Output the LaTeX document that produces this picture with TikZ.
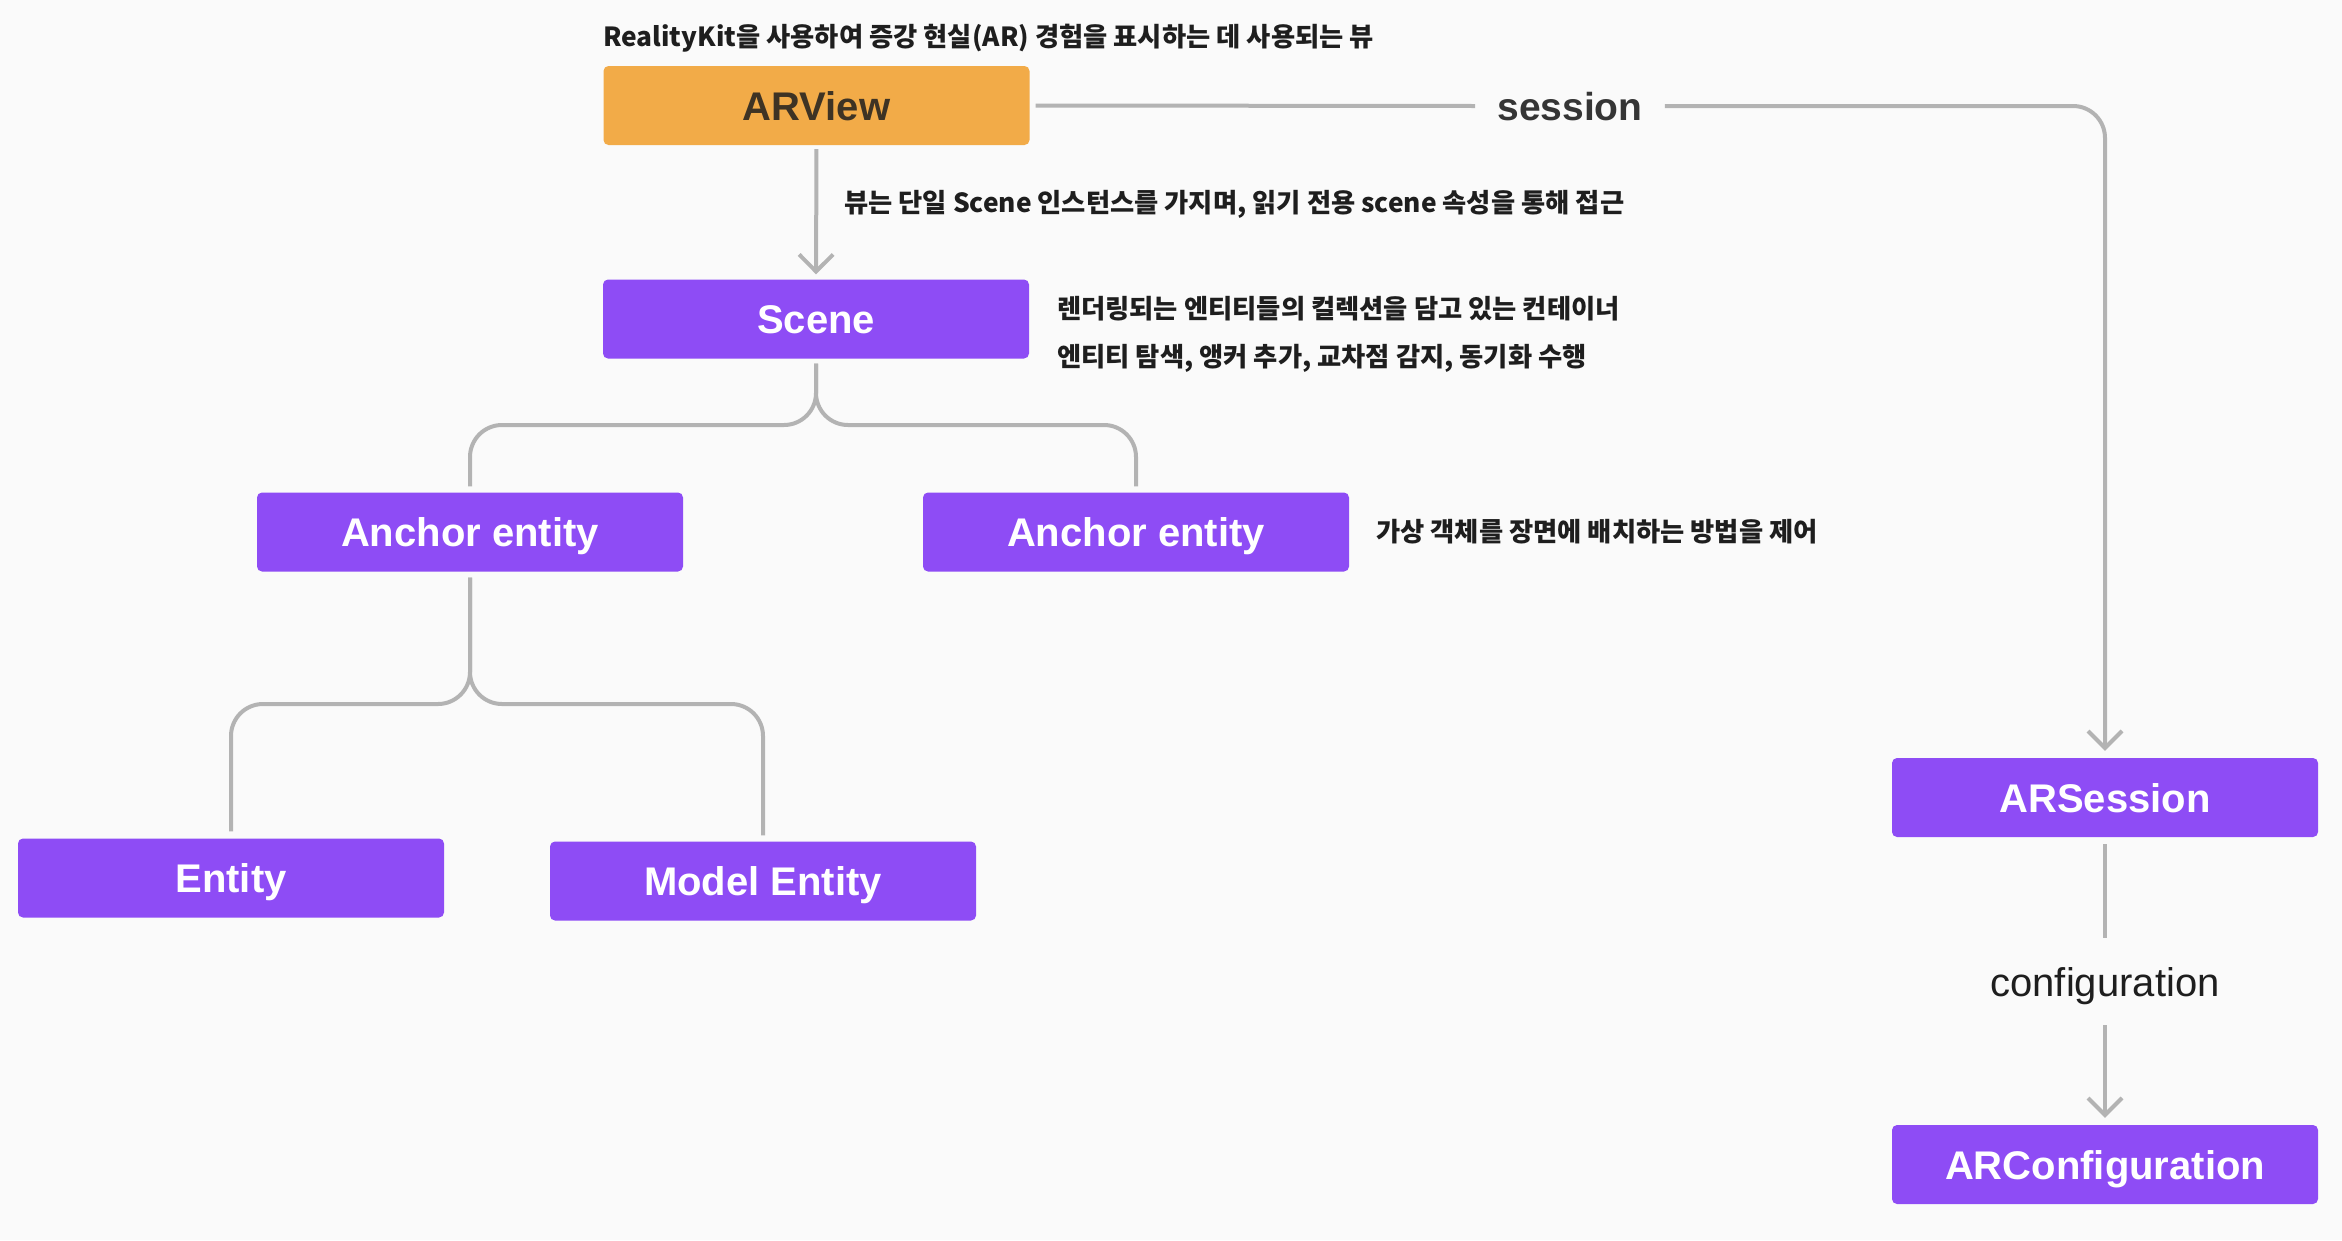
\documentclass[tikz,border=0pt]{standalone}
\usepackage{fontspec}
\setmainfont{Liberation Sans}
\newfontfamily\kr{Noto Sans CJK KR}
\usetikzlibrary{arrows.meta}
\definecolor{bg}{HTML}{FAFAFA}
\definecolor{purp}{HTML}{8E4CF5}
\definecolor{orng}{HTML}{F2AB48}
\definecolor{lgray}{HTML}{B3B3B3}
\definecolor{ink}{HTML}{1E1E1E}
\tikzset{
  box/.style={rectangle, rounded corners=5pt, fill=purp, text=white,
    minimum width=426pt, minimum height=79pt, inner sep=0pt,
    text height=29pt, text depth=0pt,
    font=\fontsize{40}{48}\selectfont\bfseries},
  orangebox/.style={box, fill=orng, text=ink!85!orng},
  note/.style={anchor=west, inner sep=0pt, text=ink,
    font=\kr\bfseries\fontsize{26.3}{30}\selectfont},
  conn/.style={draw=lgray, line width=4pt},
  arr/.style={conn, -{Straight Barb[length=17pt,width=34pt,line width=4pt]}},
}
\begin{document}
\begin{tikzpicture}[x=1pt,y=-1pt]
\fill[bg] (0,0) rectangle (2342,1240);
\useasboundingbox (0,0) rectangle (2342,1240);

% nodes
\node[orangebox] (arview) at (816.5,105.5) {ARView};
\node[box] (scene) at (816,319) {Scene};
\node[box] (ancL) at (470,532) {Anchor entity};
\node[box] (ancR) at (1136,532) {Anchor entity};
\node[box] (entity) at (231,878) {Entity};
\node[box] (model) at (763,881) {Model Entity};
\node[box] (arsession) at (2105,797.5) {ARSession};
\node[box] (arconfig) at (2105,1164.5) {ARConfiguration};

% notes
\node[note] (n1) at (603,38) {RealityKit을 사용하여 증강 현실(AR) 경험을 표시하는 데 사용되는 뷰};
\node[note] (n2) at (844,204) {뷰는 단일 Scene 인스턴스를 가지며, 읽기 전용 scene 속성을 통해 접근};
\node[note] (n3) at (1057,309) {렌더링되는 엔티티들의 컬렉션을 담고 있는 컨테이너};
\node[note] (n4) at (1057,358) {엔티티 탐색, 앵커 추가, 교차점 감지, 동기화 수행};
\node[note] (n5) at (1376,532) {가상 객체를 장면에 배치하는 방법을 제어};

% connector labels
\node[inner xsep=22pt, inner ysep=0pt, text=ink!90, text height=29pt, text depth=0pt,
  font=\fontsize{39}{44}\selectfont\bfseries] (sess) at (1570,106) {session};
\node[inner sep=0pt, minimum height=87pt, text=ink, text height=29pt, text depth=0pt,
  font=\fontsize{40}{46}\selectfont] (conf) at (2105,981.5) {configuration};

% branch points
\coordinate (b1) at (816,425);
\coordinate (b2) at (470,704);

% connectors
\draw[arr, shorten <=4pt, shorten >=5pt] (arview.south) -- (scene.north);
\draw[conn, shorten <=6pt] (arview.east) -- (sess.west);
\draw[arr, rounded corners=32pt, shorten >=7pt] (sess.east) -| (arsession.north);
\draw[conn, shorten <=7pt] (arsession.south) -- (conf.north);
\draw[arr, shorten >=7pt] (conf.south) -- (arconfig.north);

\draw[conn, rounded corners=32pt, shorten <=5pt, shorten >=6pt] (scene.south) -- (b1) -| (ancL.north);
\draw[conn, rounded corners=32pt, shorten <=5pt, shorten >=6pt] (scene.south) -- (b1) -| (ancR.north);
\draw[conn, rounded corners=32pt, shorten <=6pt, shorten >=7pt] (ancL.south) -- (b2) -| (entity.north);
\draw[conn, rounded corners=32pt, shorten <=6pt, shorten >=6pt] (ancL.south) -- (b2) -| (model.north);
\end{tikzpicture}
\end{document}
